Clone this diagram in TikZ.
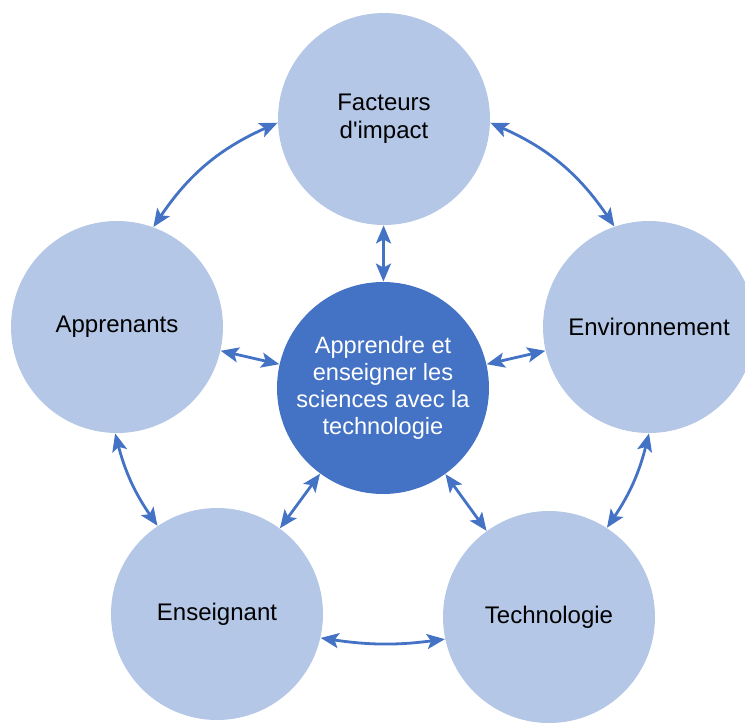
\documentclass[tikz,border=0pt]{standalone}
\usepackage{fontspec}
\setmainfont{Liberation Sans}
\usetikzlibrary{arrows.meta}
\definecolor{pale}{HTML}{B4C7E7}
\definecolor{deep}{HTML}{4472C4}
\tikzstyle{outer}=[circle, fill=pale, minimum size=106pt, inner sep=0pt, align=center, font=\fontsize{12}{13.8}\selectfont]
\tikzstyle{core}=[outer, fill=deep, text=white, font=\fontsize{11.8}{13.6}\selectfont]
\tikzstyle{link}=[draw=deep, line width=1.4pt, {Stealth[length=9pt,width=7.5pt,inset=2pt]}-{Stealth[length=9pt,width=7.5pt,inset=2pt]}]

\begin{document}
\begin{tikzpicture}[x=0.5pt, y=-0.5pt]
    \useasboundingbox (0,0) rectangle (745,724);
    \node[core] (c) at (383,388) {Apprendre et \\ enseigner les \\ sciences avec la \\ technologie};
    \node[outer] (f) at (384,119) {Facteurs \\ d\textquotesingle impact \\[-11pt]};
    \node[outer] (a) at (117,327) {Apprenants};
    \node[outer] (e) at (649,327) {Environnement};
    \node[outer] (s) at (217,614) {Enseignant};
    \node[outer] (t) at (549,617) {Technologie};
    % spokes
    \path[link] (c) -- (f);
    \path[link] (a) -- (c);
    \path[link] (c) -- (e);
    \path[link] (c) -- (s);
    \path[link] (c) -- (t);
    % ring
    \path[link] (f.182) to[bend right=16] (a.70);
    \path[link] (f.-2) to[bend left=16] (e.109);
    \path[link] (a.269) to[bend right=10] (s.124);
    \path[link] (s.-13) to[bend right=8] (t.192);
    \path[link] (t.57) to[bend right=10] (e.270);
\end{tikzpicture}
\end{document}
